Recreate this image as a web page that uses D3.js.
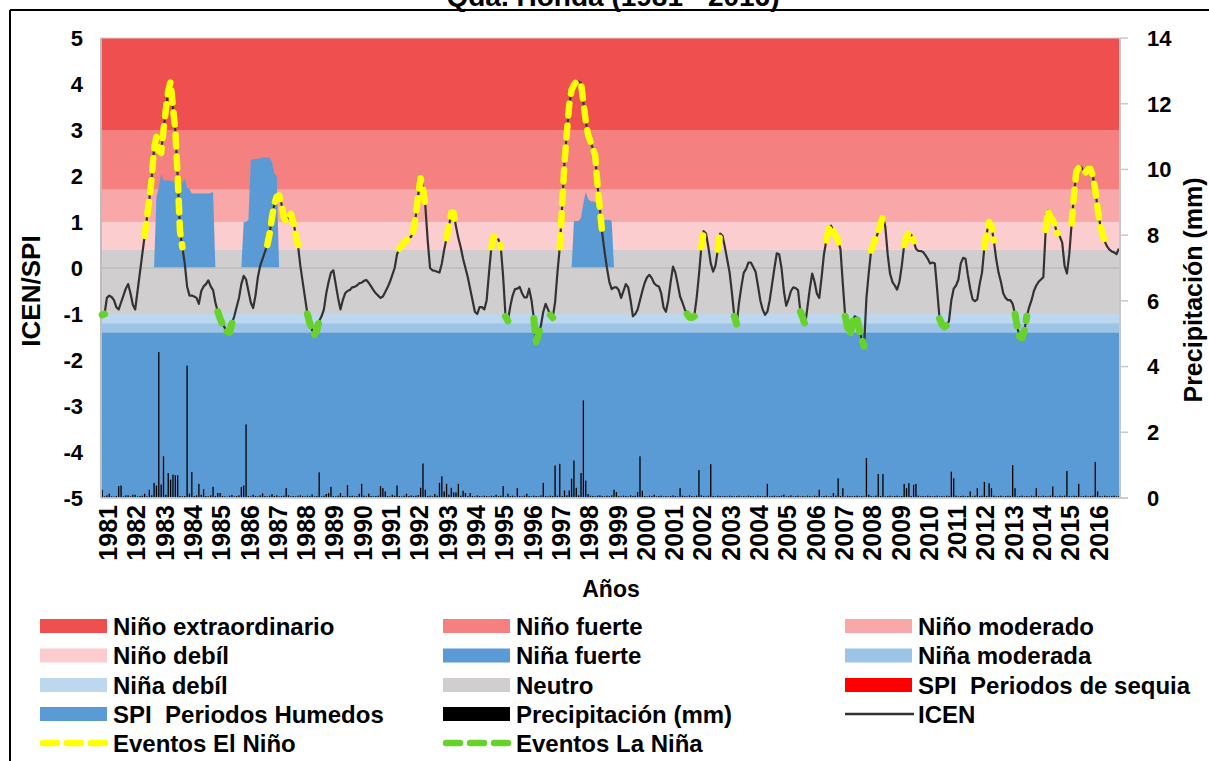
<!DOCTYPE html>
<html>
<head>
<meta charset="utf-8">
<script src="https://cdn.jsdelivr.net/npm/d3@7"></script>
<style>
  body { margin: 0; background: #fff; }
  svg text { font-family: "Liberation Sans", Arial, sans-serif; font-weight: bold; fill: #000; white-space: pre; }
</style>
</head>
<body>
<svg id="chart" width="1209" height="761"></svg>
<script>
// ---- data (monthly, Jan 1981 .. Dec 2016) ----
const years = ["1981","1982","1983","1984","1985","1986","1987","1988","1989","1990","1991","1992",
  "1993","1994","1995","1996","1997","1998","1999","2000","2001","2002","2003","2004",
  "2005","2006","2007","2008","2009","2010","2011","2012","2013","2014","2015","2016"];

// ICEN, one row per year
const icenRows = [
  [-1.02,-1.0,-0.65,-0.6,-0.63,-0.7,-0.85,-0.9,-0.75,-0.6,-0.45,-0.35],
  [-0.55,-0.8,-0.9,-0.5,-0.1,0.3,0.7,1.1,1.5,1.95,2.6,2.85],
  [2.55,2.5,3.0,3.45,3.85,4.05,3.5,3.0,2.0,0.8,0.45,0.1],
  [-0.4,-0.6,-0.6,-0.62,-0.65,-0.78,-0.5,-0.4,-0.35,-0.27,-0.4,-0.48],
  [-0.75,-0.95,-1.1,-1.22,-1.3,-1.38,-1.4,-1.2,-1.05,-0.85,-0.65,-0.35],
  [-0.17,-0.25,-0.5,-0.75,-0.87,-0.6,-0.2,0.05,0.2,0.35,0.5,0.75],
  [1.1,1.4,1.55,1.58,1.4,1.1,1.0,1.12,1.18,1.0,0.75,0.5],
  [0.05,-0.3,-0.65,-1.0,-1.2,-1.35,-1.45,-1.35,-1.15,-1.05,-0.9,-0.55],
  [-0.3,-0.1,-0.05,-0.35,-0.65,-0.9,-0.7,-0.55,-0.5,-0.48,-0.42,-0.41],
  [-0.38,-0.33,-0.32,-0.28,-0.26,-0.32,-0.4,-0.48,-0.55,-0.6,-0.65,-0.62],
  [-0.52,-0.42,-0.3,-0.15,0.0,0.3,0.42,0.48,0.55,0.6,0.65,0.68],
  [0.85,1.15,1.6,1.95,1.75,1.35,0.6,0.0,-0.05,-0.06,-0.08,-0.1],
  [0.1,0.4,0.65,0.9,1.2,1.2,0.9,0.65,0.45,0.2,0.0,-0.2],
  [-0.45,-0.7,-0.95,-1.0,-0.85,-0.85,-0.9,-0.7,-0.1,0.45,0.68,0.65],
  [0.62,0.45,-0.2,-1.05,-1.15,-0.84,-0.6,-0.46,-0.45,-0.41,-0.55,-0.64],
  [-0.64,-0.45,-0.7,-1.1,-1.6,-1.45,-1.25,-0.95,-0.78,-0.9,-1.02,-1.08],
  [-0.75,-0.1,0.45,1.35,2.3,2.95,3.55,3.87,3.98,4.05,4.05,4.02],
  [3.6,3.2,2.9,2.75,2.6,2.45,1.8,1.3,0.75,0.35,0.0,-0.3],
  [-0.46,-0.42,-0.42,-0.48,-0.65,-0.5,-0.35,-0.42,-0.7,-1.05,-1.0,-0.9],
  [-0.7,-0.5,-0.32,-0.2,-0.15,-0.22,-0.33,-0.38,-0.4,-0.55,-0.86,-0.95],
  [-0.7,-0.3,0.03,-0.1,-0.35,-0.62,-0.75,-0.9,-1.0,-1.07,-1.08,-1.05],
  [-0.66,-0.15,0.45,0.8,0.75,0.45,0.1,-0.08,0.05,0.4,0.75,0.7],
  [0.45,0.18,-0.1,-0.55,-1.05,-1.22,-0.75,-0.4,-0.1,-0.02,0.12,0.12],
  [0.02,-0.08,-0.38,-0.7,-0.9,-1.02,-0.95,-0.7,-0.35,0.0,0.32,0.3],
  [0.0,-0.5,-0.82,-0.68,-0.5,-0.42,-0.44,-0.48,-0.95,-1.08,-1.24,-0.85],
  [-0.45,-0.12,-0.3,-0.56,-0.65,-0.2,0.3,0.6,0.85,0.92,0.8,0.7],
  [0.6,0.4,-0.35,-1.05,-1.3,-1.46,-1.2,-1.05,-1.08,-1.35,-1.55,-1.7],
  [-0.65,-0.1,0.38,0.52,0.65,0.78,0.95,1.12,0.9,0.3,-0.12,-0.3],
  [-0.38,-0.47,-0.3,0.05,0.5,0.68,0.78,0.72,0.58,0.42,0.37,0.37],
  [0.35,0.28,0.2,0.1,0.12,0.1,-0.48,-1.1,-1.22,-1.28,-1.25,-1.15],
  [-0.7,-0.45,-0.38,-0.25,0.1,0.22,0.2,-0.15,-0.45,-0.68,-0.72,-0.68],
  [-0.35,-0.1,0.45,0.75,1.0,0.9,0.6,0.2,-0.1,-0.3,-0.55,-0.65],
  [-0.7,-0.7,-0.78,-1.0,-1.3,-1.5,-1.52,-1.35,-1.05,-0.85,-0.7,-0.5],
  [-0.38,-0.3,-0.25,-0.2,0.83,1.25,1.1,1.05,0.9,0.75,0.68,0.55],
  [0.05,-0.12,0.3,0.97,1.6,2.1,2.18,2.2,2.12,2.08,2.15,2.15],
  [2.0,1.7,1.3,0.97,0.75,0.58,0.47,0.4,0.36,0.34,0.3,0.42]
];

// precipitation (mm), one row per year
const precipRows = [
  [0.25,0.05,0.08,0.13,0.05,0.04,0.06,0.36,0.38,0.05,0.08,0.08],
  [0.05,0.1,0.1,0.05,0.06,0.07,0.13,0.05,0.25,0.08,0.46,0.38],
  [4.44,0.41,1.27,0.1,0.76,0.56,0.71,0.69,0.69,0.06,0.05,0.06],
  [4.03,0.13,0.79,0.06,0.08,0.43,0.1,0.27,0.06,0.05,0.08,0.34],
  [0.06,0.15,0.15,0.06,0.05,0.04,0.07,0.09,0.05,0.06,0.08,0.33],
  [0.38,2.24,0.06,0.05,0.1,0.06,0.05,0.08,0.14,0.06,0.05,0.07],
  [0.12,0.06,0.08,0.05,0.06,0.07,0.3,0.08,0.05,0.06,0.05,0.07],
  [0.08,0.06,0.05,0.07,0.06,0.11,0.05,0.06,0.78,0.05,0.07,0.12],
  [0.15,0.34,0.06,0.05,0.07,0.15,0.06,0.05,0.39,0.06,0.07,0.05],
  [0.06,0.13,0.43,0.07,0.05,0.13,0.06,0.05,0.06,0.07,0.36,0.3],
  [0.2,0.06,0.05,0.1,0.07,0.38,0.06,0.05,0.07,0.13,0.06,0.08],
  [0.06,0.07,0.09,0.31,1.05,0.25,0.06,0.07,0.05,0.12,0.07,0.46],
  [0.66,0.2,0.43,0.1,0.31,0.17,0.17,0.43,0.07,0.22,0.15,0.06],
  [0.15,0.06,0.05,0.08,0.06,0.05,0.07,0.06,0.05,0.07,0.06,0.1],
  [0.06,0.07,0.36,0.05,0.13,0.06,0.07,0.05,0.3,0.06,0.05,0.07],
  [0.13,0.06,0.05,0.07,0.06,0.05,0.08,0.46,0.06,0.05,0.07,0.06],
  [0.99,0.07,1.04,0.06,0.23,0.08,0.23,0.59,1.14,0.31,0.08,0.76],
  [2.97,0.53,0.12,0.07,0.06,0.05,0.07,0.08,0.06,0.05,0.07,0.06],
  [0.08,0.25,0.18,0.06,0.05,0.07,0.06,0.05,0.08,0.06,0.07,0.18],
  [1.27,0.22,0.06,0.05,0.07,0.06,0.1,0.05,0.06,0.07,0.05,0.06],
  [0.05,0.06,0.08,0.06,0.05,0.3,0.07,0.06,0.05,0.08,0.06,0.05],
  [0.07,0.85,0.08,0.06,0.05,0.07,1.03,0.06,0.05,0.07,0.06,0.05],
  [0.06,0.05,0.07,0.06,0.05,0.06,0.07,0.05,0.06,0.05,0.07,0.06],
  [0.06,0.05,0.07,0.06,0.05,0.06,0.43,0.05,0.06,0.07,0.05,0.06],
  [0.07,0.1,0.05,0.06,0.08,0.05,0.06,0.07,0.05,0.06,0.05,0.07],
  [0.06,0.05,0.07,0.06,0.25,0.05,0.06,0.07,0.05,0.06,0.15,0.07],
  [0.6,0.06,0.3,0.05,0.07,0.06,0.05,0.06,0.07,0.05,0.06,0.05],
  [1.22,0.1,0.06,0.05,0.07,0.73,0.06,0.73,0.05,0.06,0.07,0.05],
  [0.06,0.07,0.05,0.06,0.43,0.3,0.45,0.06,0.4,0.43,0.07,0.05],
  [0.06,0.05,0.07,0.06,0.05,0.06,0.07,0.05,0.06,0.05,0.07,0.06],
  [0.8,0.6,0.07,0.05,0.06,0.07,0.05,0.06,0.2,0.05,0.07,0.3],
  [0.06,0.07,0.49,0.06,0.45,0.3,0.07,0.05,0.06,0.07,0.05,0.06],
  [0.07,0.06,1.0,0.3,0.05,0.06,0.07,0.05,0.06,0.05,0.07,0.06],
  [0.3,0.06,0.05,0.07,0.06,0.05,0.07,0.35,0.06,0.05,0.07,0.06],
  [0.07,0.82,0.06,0.05,0.07,0.06,0.43,0.05,0.06,0.07,0.05,0.06],
  [0.07,1.1,0.2,0.06,0.05,0.07,0.06,0.05,0.06,0.07,0.05,0.06]
];

// SPI wet periods: first month and monthly values
const spiWetStart = ["1982-12", "1986-01", "1997-09"];
const spiWetValues = [
  [1.55,1.75,2.05,1.9,1.9,1.9,1.9,1.88,1.9,1.9,1.88,1.85,1.95,1.75,1.72,1.62,1.62,1.62,1.62,1.62,1.62,1.62,1.62,1.63,1.65],
  [1.0,1.0,1.05,2.35,2.36,2.37,2.38,2.38,2.4,2.4,2.41,2.4,2.3,2.05,2.0],
  [1.02,1.02,1.02,1.1,1.4,1.66,1.5,1.45,1.45,1.43,1.4,1.25,1.05,1.05,1.05,1.05,1.02]
];
const spiDryStart = [];   // no drought periods drawn
const spiDryValues = [];

// ENSO events (first and last month)
const ninoEvents = [["1982-07","1983-11"],["1986-11","1987-12"],["1991-07","1992-06"],["1993-03","1993-07"],
  ["1994-10","1995-02"],["1997-03","1998-09"],["2002-03","2002-05"],["2002-10","2002-12"],["2006-08","2007-02"],
  ["2008-03","2008-08"],["2009-05","2009-09"],["2012-03","2012-07"],["2014-05","2014-10"],["2015-04","2016-07"]];
const ninaEvents = [["1981-01","1981-02"],["1985-02","1985-09"],["1988-04","1988-10"],["1995-04","1995-05"],
  ["1996-04","1996-07"],["1996-11","1996-12"],["2001-09","2001-12"],["2003-05","2003-06"],["2005-09","2005-11"],
  ["2007-04","2007-12"],["2010-08","2010-12"],["2013-04","2013-09"]];

// ICEN classification bands
const bandNames = ["Niño extraordinario","Niño fuerte","Niño moderado","Niño debíl","Neutro","Niña debíl","Niña moderada","Niña fuerte"];
const bandLow  = [3.0, 1.7, 1.0, 0.4, -1.0, -1.2, -1.4, -5];
const bandHigh = [5.0, 3.0, 1.7, 1.0, 0.4, -1.0, -1.2, -1.4];

const leftTicks = [-5,-4,-3,-2,-1,0,1,2,3,4,5];
const rightTicks = [0,2,4,6,8,10,12,14];

// ---- styles ----
const bandColor = {
  "Niño extraordinario": "#f04f50", "Niño fuerte": "#f58080", "Niño moderado": "#f8a8a8",
  "Niño debíl": "#fbcdce", "Neutro": "#d0cecf", "Niña debíl": "#bdd7ee",
  "Niña moderada": "#9dc3e6", "Niña fuerte": "#5b9bd5"
};
const wetColor = "#5b9bd5", dryColor = "#ff0000";
const ninoColor = "#ffff00", ninaColor = "#66d22a", icenColor = "#333333";

const icen = icenRows.flat();
const precip = precipRows.flat();
const N = icen.length;
const monthIndex = (s) => (+s.slice(0, 4) - 1981) * 12 + (+s.slice(5, 7) - 1);

const svg = d3.select("#chart");
const plot = { left: 101, right: 1120, top: 38, bottom: 498 };

const x = d3.scaleLinear().domain([0, N]).range([plot.left, plot.right]);
const yL = d3.scaleLinear().domain([-5, 5]).range([plot.bottom, plot.top]);
const yR = d3.scaleLinear().domain([0, 14]).range([plot.bottom, plot.top]);
const cx = (i) => x(i + 0.5);

// bands
svg.append("g").selectAll("rect")
  .data(bandNames)
  .join("rect")
  .attr("x", plot.left)
  .attr("width", plot.right - plot.left)
  .attr("y", (d, k) => yL(bandHigh[k]))
  .attr("height", (d, k) => yL(bandLow[k]) - yL(bandHigh[k]))
  .attr("fill", (d) => bandColor[d]);

// SPI areas
function spiArea(starts, values, color) {
  const g = svg.append("g");
  starts.forEach((s, p) => {
    const i0 = monthIndex(s);
    const pts = [[i0 - 1, 0]].concat(values[p].map((v, j) => [i0 + j, v]), [[i0 + values[p].length, 0]]);
    g.append("path")
      .datum(pts)
      .attr("fill", color)
      .attr("d", d3.area().x((d) => cx(d[0])).y0(yL(0)).y1((d) => yL(d[1])));
  });
}
spiArea(spiDryStart, spiDryValues, dryColor);
spiArea(spiWetStart, spiWetValues, wetColor);

// zero line of primary axis
svg.append("line")
  .attr("x1", plot.left).attr("x2", plot.right)
  .attr("y1", yL(0)).attr("y2", yL(0))
  .attr("stroke", "#bcbcbc").attr("stroke-width", 1.5);

// precipitation bars
svg.append("g").selectAll("rect")
  .data(precip)
  .join("rect")
  .attr("x", (d, i) => cx(i) - 0.65)
  .attr("width", 1.3)
  .attr("y", (d) => yR(d))
  .attr("height", (d) => yR(0) - yR(d))
  .attr("fill", "#000");

// plot frame and axes lines
svg.append("rect")
  .attr("x", plot.left).attr("y", plot.top)
  .attr("width", plot.right - plot.left).attr("height", plot.bottom - plot.top)
  .attr("fill", "none").attr("stroke", "#d4d4d4").attr("stroke-width", 1);
svg.append("line").attr("x1", plot.left).attr("x2", plot.left)
  .attr("y1", plot.top).attr("y2", plot.bottom).attr("stroke", "#bdbdbd").attr("stroke-width", 2);

// ICEN line
svg.append("path")
  .datum(icen)
  .attr("fill", "none")
  .attr("stroke", icenColor)
  .attr("stroke-width", 2.2)
  .attr("stroke-linejoin", "round")
  .attr("d", d3.line().x((d, i) => cx(i)).y((d) => yL(d)));

// events
function drawEvents(events, color, width) {
  const g = svg.append("g");
  events.forEach(([a, b]) => {
    const i0 = monthIndex(a), i1 = monthIndex(b);
    const pts = d3.range(i0, i1 + 1).map((i) => [cx(i), yL(icen[i])]);
    g.append("path")
      .attr("d", d3.line()(pts))
      .attr("fill", "none")
      .attr("stroke", color)
      .attr("stroke-width", width)
      .attr("stroke-linecap", "round")
      .attr("stroke-linejoin", "round")
      .attr("stroke-dasharray", "12,10");
  });
}
drawEvents(ninoEvents, ninoColor, 6.5);
drawEvents(ninaEvents, ninaColor, 7);

// left axis labels
svg.append("g").selectAll("text")
  .data(leftTicks)
  .join("text")
  .attr("x", 83)
  .attr("y", (d) => yL(d))
  .attr("dy", "0.36em")
  .attr("text-anchor", "end")
  .style("font-size", "22px")
  .text((d) => d);

// right axis with ticks
const rAxis = svg.append("g");
rAxis.append("line").attr("x1", plot.right).attr("x2", plot.right)
  .attr("y1", plot.top).attr("y2", plot.bottom).attr("stroke", "#c8c8c8").attr("stroke-width", 2);
rAxis.selectAll("line.tick")
  .data(rightTicks)
  .join("line")
  .attr("class", "tick")
  .attr("x1", plot.right).attr("x2", plot.right + 8)
  .attr("y1", (d) => yR(d)).attr("y2", (d) => yR(d))
  .attr("stroke", "#c8c8c8").attr("stroke-width", 1.5);
rAxis.selectAll("text")
  .data(rightTicks)
  .join("text")
  .attr("x", 1147)
  .attr("y", (d) => yR(d))
  .attr("dy", "0.36em")
  .style("font-size", "22px")
  .text((d) => d);
svg.append("line").attr("x1", plot.left).attr("x2", plot.right + 8)
  .attr("y1", plot.bottom).attr("y2", plot.bottom).attr("stroke", "#c8c8c8").attr("stroke-width", 1.5);

// year labels
svg.append("g").selectAll("text")
  .data(years)
  .join("text")
  .attr("transform", (d, k) => `translate(${x(k * 12) + 7},505) rotate(-90)`)
  .attr("dy", "0.36em")
  .attr("text-anchor", "end")
  .style("font-size", "25px")
  .text((d) => d);

// axis titles
svg.append("text").attr("x", 611).attr("y", 597).attr("text-anchor", "middle")
  .style("font-size", "23px").text("Años");
svg.append("text").attr("transform", "translate(40,291) rotate(-90)").attr("text-anchor", "middle")
  .style("font-size", "26px").text("ICEN/SPI");
svg.append("text").attr("transform", "translate(1202,290) rotate(-90)").attr("text-anchor", "middle")
  .style("font-size", "25px").text("Precipitación (mm)");

// title (cut at top) and frame
svg.append("text").attr("x", 613).attr("y", 6).attr("text-anchor", "middle")
  .style("font-size", "28px").text("Qda. Honda (1981 - 2016)");
svg.append("line").attr("x1", 10).attr("x2", 1209).attr("y1", 10).attr("y2", 10)
  .attr("stroke", "#000").attr("stroke-width", 2);
svg.append("line").attr("x1", 10).attr("x2", 10).attr("y1", 10).attr("y2", 761)
  .attr("stroke", "#000").attr("stroke-width", 2);

// legend
const legendLabels = ["Niño extraordinario","Niño fuerte","Niño moderado","Niño debíl","Niña fuerte","Niña moderada",
  "Niña debíl","Neutro","SPI  Periodos de sequia","SPI  Periodos Humedos","Precipitación (mm)","ICEN",
  "Eventos El Niño","Eventos La Niña"];
const legendStyle = {
  "SPI  Periodos de sequia": { type: "rect", color: dryColor },
  "SPI  Periodos Humedos": { type: "rect", color: wetColor },
  "Precipitación (mm)": { type: "rect", color: "#000" },
  "ICEN": { type: "line", color: icenColor },
  "Eventos El Niño": { type: "dash", color: ninoColor },
  "Eventos La Niña": { type: "dash", color: ninaColor }
};
const colX = [40, 443, 845];
const rowY = [626, 655.5, 685, 714, 743];
const lg = svg.append("g");
legendLabels.forEach((name, k) => {
  const gx = colX[k % 3], gy = rowY[Math.floor(k / 3)];
  const st = legendStyle[name] || { type: "rect", color: bandColor[name] };
  if (st.type === "rect") {
    lg.append("rect").attr("x", gx).attr("y", gy - 7).attr("width", 67).attr("height", 14).attr("fill", st.color);
  } else if (st.type === "line") {
    lg.append("line").attr("x1", gx).attr("x2", gx + 69).attr("y1", gy).attr("y2", gy)
      .attr("stroke", st.color).attr("stroke-width", 2.5);
  } else {
    lg.append("line").attr("x1", gx + 3).attr("x2", gx + 68).attr("y1", gy).attr("y2", gy)
      .attr("stroke", st.color).attr("stroke-width", 6.5).attr("stroke-linecap", "round")
      .attr("stroke-dasharray", "14,10");
  }
  lg.append("text").attr("x", gx + 73).attr("y", gy).attr("dy", "0.36em")
    .style("font-size", "24px").text(name);
});
</script>
</body>
</html>
